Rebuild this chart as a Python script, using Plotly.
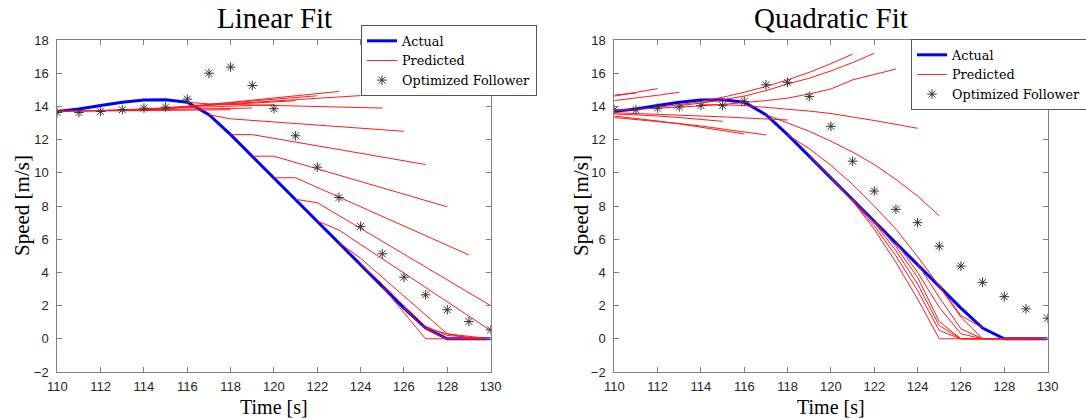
import plotly.graph_objects as go

# ---------------- data ----------------
time = [110, 111, 112, 113, 114, 115, 116, 117, 118, 119, 120,
        121, 122, 123, 124, 125, 126, 127, 128, 129, 130]
actual = [13.7, 13.85, 14.05, 14.25, 14.38, 14.4, 14.25, 13.5, 12.3, 11.0, 9.7,
          8.4, 7.1, 5.8, 4.5, 3.15, 1.85, 0.65, 0.0, 0.0, 0.0]
follower_linear = [13.63, 13.63, 13.69, 13.8, 13.9, 13.96, 14.44, 16.0, 16.37, 15.26, 13.86,
                   12.23, 10.34, 8.51, 6.77, 5.12, 3.71, 2.65, 1.75, 1.04, 0.54]
follower_quadratic = [13.8, 13.8, 13.9, 13.97, 14.05, 14.05, 14.3, 15.3, 15.45, 14.6, 12.8,
                      10.7, 8.9, 7.8, 7.0, 5.58, 4.38, 3.4, 2.54, 1.8, 1.24]

# linear-fit predictions: (times, speeds) vertices
linear_pred_times = [
    [110, 118], [110, 111, 119], [111, 112, 120], [112, 113, 121],
    [113, 114, 122], [114, 115, 123], [115, 116, 124], [116, 117, 125],
    [117, 118, 126], [118, 119, 127], [119, 120, 128], [120, 121, 129],
    [121, 122, 130], [122, 123, 130], [123, 124, 128, 130],
    [124, 125, 126, 127, 128, 130], [125, 126, 127, 130], [126, 127, 128, 130],
    [127, 128, 129, 130],
]
linear_pred_speeds = [
    [13.7, 13.8], [13.72, 13.73, 13.9], [13.74, 13.75, 14.1], [13.75, 13.78, 14.34],
    [13.77, 13.8, 14.64], [13.8, 13.85, 14.9], [13.85, 14.0, 14.65], [14.25, 14.15, 13.9],
    [13.5, 13.25, 12.5], [12.3, 12.3, 10.5], [11.0, 11.0, 7.95], [9.7, 9.7, 5.05],
    [8.4, 8.2, 2.0], [7.1, 6.55, 0.5], [5.8, 4.85, 0.3, 0.0],
    [4.5, 3.3, 2.0, 0.75, 0.2, 0.0], [3.15, 1.6, 0.0, 0.0], [1.85, 0.6, 0.0, 0.0],
    [0.65, 0.3, 0.05, 0.0],
]

# quadratic-fit predictions
quad_pred_times = [
    [110, 111, 112], [110, 111], [110, 111, 112, 113],
    [110, 111, 112, 113, 114, 115],
    [110, 111, 112, 113, 114, 115, 116],
    [110, 111, 112, 113, 114, 115, 116, 117],
    [110, 111, 112, 113, 114, 115, 116, 117, 118],
    [112, 113, 114, 115, 116, 117, 118, 119, 120, 121],
    [113, 114, 115, 116, 117, 118, 119, 120, 121, 122],
    [110, 112, 114, 115, 116, 117, 118, 119, 120, 121, 122, 123],
    [114, 115, 116, 117, 118, 119, 120, 121, 122, 123, 124],
    [117, 118, 119, 120, 121, 122, 123, 124, 125],
    [118, 119, 120, 121, 122, 123, 124, 125, 126, 127],
    [119, 120, 121, 122, 123, 124, 125, 126, 127],
    [120, 121, 122, 123, 124, 125, 126, 127, 128],
    [121, 122, 123, 124, 125, 126, 127, 128, 129],
    [122, 123, 124, 125, 126, 127, 128, 129, 130],
    [123, 124, 125, 126, 127, 128, 129, 130],
    [124, 125, 126, 127, 128, 129, 130],
    [125, 126, 127, 128, 129, 130],
]
quad_pred_speeds = [
    [14.62, 14.85, 15.07], [14.68, 14.8], [14.35, 14.5, 14.67, 14.85],
    [13.55, 13.5, 13.42, 13.33, 13.22, 13.1],
    [13.42, 13.28, 13.12, 12.95, 12.75, 12.55, 12.34],
    [13.33, 13.22, 13.1, 12.96, 12.82, 12.65, 12.47, 12.28],
    [13.62, 13.58, 13.53, 13.48, 13.42, 13.37, 13.31, 13.25, 13.18],
    [13.95, 14.1, 14.3, 14.55, 14.85, 15.2, 15.6, 16.05, 16.58, 17.15],
    [14.05, 14.2, 14.4, 14.62, 14.95, 15.35, 15.7, 16.14, 16.64, 17.2],
    [13.75, 13.87, 14.03, 14.12, 14.22, 14.35, 14.5, 14.75, 15.05, 15.6, 15.92, 16.25],
    [14.1, 14.1, 14.05, 13.95, 13.85, 13.72, 13.57, 13.38, 13.15, 12.92, 12.68],
    [13.5, 13.0, 12.5, 11.9, 11.25, 10.5, 9.6, 8.6, 7.4],
    [12.3, 11.45, 10.45, 9.3, 8.0, 6.6, 4.95, 3.2, 1.4, 0.65],
    [11.0, 9.7, 8.3, 6.6, 4.6, 2.4, 0.0, 0.0, 0.0],
    [9.7, 8.3, 6.8, 5.0, 2.9, 0.5, 0.0, 0.0, 0.0],
    [8.4, 7.0, 5.3, 3.3, 0.8, 0.0, 0.0, 0.0, 0.0],
    [7.1, 5.55, 3.7, 1.04, 0.0, 0.0, 0.0, 0.0, 0.0],
    [5.8, 4.0, 1.9, 0.3, 0.0, 0.0, 0.0, 0.0],
    [4.5, 2.5, 0.6, 0.0, 0.0, 0.0, 0.0],
    [3.15, 1.3, 0.0, 0.0, 0.0, 0.0],
]

x_ticks = [110, 112, 114, 116, 118, 120, 122, 124, 126, 128, 130]
y_ticks = [-2, 0, 2, 4, 6, 8, 10, 12, 14, 16, 18]

# ---------------- figure ----------------
W, H = 1086, 420
SERIF = "Liberation Serif"
LEG_FONT = "DejaVu Serif"
SANS = "Liberation Sans"
RED = "#ff1a1a"
BLUE = "#0000ff"
STAR = "#333333"

fig = go.Figure()


def add_panel(xa, ya, legend, pred_t, pred_v, follower):
    fig.add_trace(go.Scatter(x=time, y=actual, mode="lines", name="Actual",
                             line=dict(color=BLUE, width=3), xaxis=xa, yaxis=ya,
                             legend=legend, legendrank=1))
    for i, (t, v) in enumerate(zip(pred_t, pred_v)):
        fig.add_trace(go.Scatter(x=t, y=v, mode="lines", name="Predicted",
                                 line=dict(color=RED, width=1), xaxis=xa, yaxis=ya,
                                 legend=legend, legendrank=2, showlegend=(i == 0)))
    fig.add_trace(go.Scatter(x=time, y=follower, mode="markers", name="Optimized Follower",
                             marker=dict(symbol="asterisk-open", size=8, color=STAR,
                                         line=dict(width=1, color=STAR)),
                             xaxis=xa, yaxis=ya, legend=legend, legendrank=3))


add_panel("x", "y", "legend", linear_pred_times, linear_pred_speeds, follower_linear)
add_panel("x2", "y2", "legend2", quad_pred_times, quad_pred_speeds, follower_quadratic)

ydom = [48 / H, 380 / H]
left_dom = [57.3 / W, 490.6 / W]
right_dom = [614.3 / W, 1047.6 / W]

axis_common = dict(showgrid=False, zeroline=False, showline=True, linecolor="#808080",
                   linewidth=1, mirror="ticks", ticks="inside", ticklen=5,
                   tickcolor="#808080", automargin=False,
                   tickfont=dict(family=SANS, size=13, color="#262626"))

legend_common = dict(xanchor="left", yanchor="top", bgcolor="white",
                     bordercolor="#555555", borderwidth=1,
                     font=dict(family=LEG_FONT, size=12.8, color="black"),
                     itemwidth=30, tracegroupgap=0)

fig.update_layout(
    width=W, height=H, margin=dict(l=0, r=0, t=0, b=0, autoexpand=False),
    paper_bgcolor="white", plot_bgcolor="white",
    xaxis=dict(domain=left_dom, range=[110, 130], tickvals=x_ticks, anchor="y",
               ticklabelstandoff=2, **axis_common),
    yaxis=dict(domain=ydom, range=[-2, 18], tickvals=y_ticks, anchor="x",
               ticklabelstandoff=5, **axis_common),
    xaxis2=dict(domain=right_dom, range=[110, 130], tickvals=x_ticks, anchor="y2",
                ticklabelstandoff=2, **axis_common),
    yaxis2=dict(domain=ydom, range=[-2, 18], tickvals=y_ticks, anchor="x2",
                ticklabelstandoff=5, **axis_common),
    legend=dict(x=361 / W, y=1 - 25 / H, **legend_common),
    legend2=dict(x=911 / W, y=1 - 39 / H, **legend_common),
    showlegend=True,
)

# titles
for txt, cx in [("Linear Fit", 274), ("Quadratic Fit", 831)]:
    fig.add_annotation(text=txt, x=cx / W, y=1, xref="paper", yref="paper",
                       xanchor="center", yanchor="top", showarrow=False,
                       font=dict(family=SERIF, size=29, color="black"))
# x-axis titles
for cx in [274, 831]:
    fig.add_annotation(text="Time [s]", x=cx / W, y=0, xref="paper", yref="paper",
                       xanchor="center", yanchor="bottom", showarrow=False,
                       font=dict(family=SERIF, size=20, color="black"))
# y-axis titles
for cx in [22, 581]:
    fig.add_annotation(text="Speed [m/s]", x=cx / W, y=1 - 206 / H, xref="paper", yref="paper",
                       xanchor="center", yanchor="middle", showarrow=False, textangle=-90,
                       font=dict(family=SERIF, size=21, color="black"))

fig.write_html("out.html")
